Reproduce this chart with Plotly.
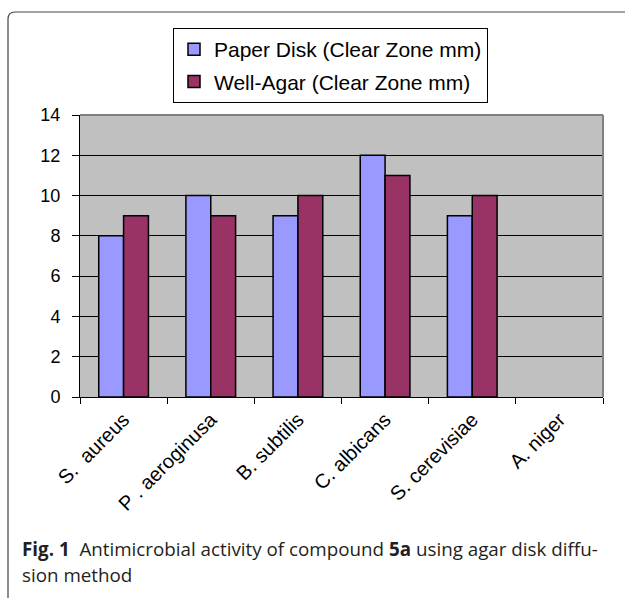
import plotly.graph_objects as go

# Organisms tested and clear-zone diameters (mm)
organisms = ["S.\u00a0 aureus", "P . aeroginusa", "B. subtilis", "C. albicans",
             "S. cerevisiae", "A. niger"]
paper_disk = [8, 10, 9, 12, 9, 0]
well_agar = [9, 9, 10, 11, 10, 0]

series_names = ["Paper Disk (Clear Zone mm)", "Well-Agar (Clear Zone mm)"]
series_colors = ["#9999FF", "#993366"]
y_ticks = [0, 2, 4, 6, 8, 10, 12, 14]

W, H = 625, 598
L, R, T, B = 80, 22, 115, 201
plot_w = W - L - R
plot_h = H - T - B

SANS = "Liberation Sans, Arial, sans-serif"

fig = go.Figure()
for name, vals, col in zip(series_names, [paper_disk, well_agar], series_colors):
    fig.add_trace(go.Bar(
        x=organisms, y=vals, name=name, legendgroup=name,
        marker=dict(color=col,
                    line=dict(color="black",
                              width=[1.5 if v > 0 else 0 for v in vals])),
    ))

fig.update_layout(
    width=W, height=H,
    margin=dict(l=L, r=R, t=T, b=B),
    paper_bgcolor="white",
    plot_bgcolor="#C0C0C0",
    barmode="group",
    bargap=0.43,
    bargroupgap=0,
    font=dict(family=SANS, size=17, color="black"),
    legend=dict(
        x=(173 - L) / plot_w, y=(H - B - 28) / plot_h,
        xanchor="left", yanchor="top",
        bgcolor="white", bordercolor="black", borderwidth=1,
        font=dict(family=SANS, size=21, color="black"),
        traceorder="grouped", tracegroupgap=2,
        itemwidth=30,
    ),
    xaxis=dict(
        type="category",
        showgrid=False,
        ticks="outside", ticklen=6, tickcolor="black", tickwidth=1,
        tickson="boundaries",
        tickangle=-45,
        ticklabelstandoff=2,
        showline=True, linecolor="black", linewidth=1,
        tickfont=dict(family=SANS, size=20, color="black"),
        fixedrange=True,
    ),
    yaxis=dict(
        range=[0, 14],
        tickvals=y_ticks,
        showgrid=True, gridcolor="black", gridwidth=1,
        ticks="outside", ticklen=7, tickcolor="black", tickwidth=1,
        ticklabelstandoff=8,
        showline=True, linecolor="black", linewidth=1,
        zeroline=False,
        tickfont=dict(family=SANS, size=18, color="black"),
        fixedrange=True,
    ),
    showlegend=True,
)

# Gray frame on the top and right of the plotting area
fig.add_shape(type="line", xref="paper", yref="paper", x0=0, x1=1, y0=1, y1=1,
              line=dict(color="#808080", width=2))
fig.add_shape(type="line", xref="paper", yref="paper", x0=1, x1=1, y0=0, y1=1,
              line=dict(color="#808080", width=2))

# Rounded figure frame (pixel offsets from the plot's lower-left corner)
fig.add_shape(
    type="path", xref="paper", yref="paper",
    xsizemode="pixel", ysizemode="pixel", xanchor=0, yanchor=0,
    path="M -72,-215 L -72,378 Q -72,385 -65,385 L 570,385",
    line=dict(color="#444444", width=1.2),
)

# Figure caption
cap_font = dict(family="Open Sans, Noto Sans, sans-serif", size=18.8, color="#231F20")
fig.add_annotation(
    xref="paper", yref="paper", x=(20 - L) / plot_w, y=(H - B - 549) / plot_h,
    xanchor="left", yanchor="middle", showarrow=False, font=cap_font,
    text="<b>Fig. 1</b>\u00a0 Antimicrobial activity of compound <b>5a</b> using agar disk diffu-",
)
fig.add_annotation(
    xref="paper", yref="paper", x=(20 - L) / plot_w, y=(H - B - 575) / plot_h,
    xanchor="left", yanchor="middle", showarrow=False, font=cap_font,
    text="sion method",
)

fig.write_html("out.html")
